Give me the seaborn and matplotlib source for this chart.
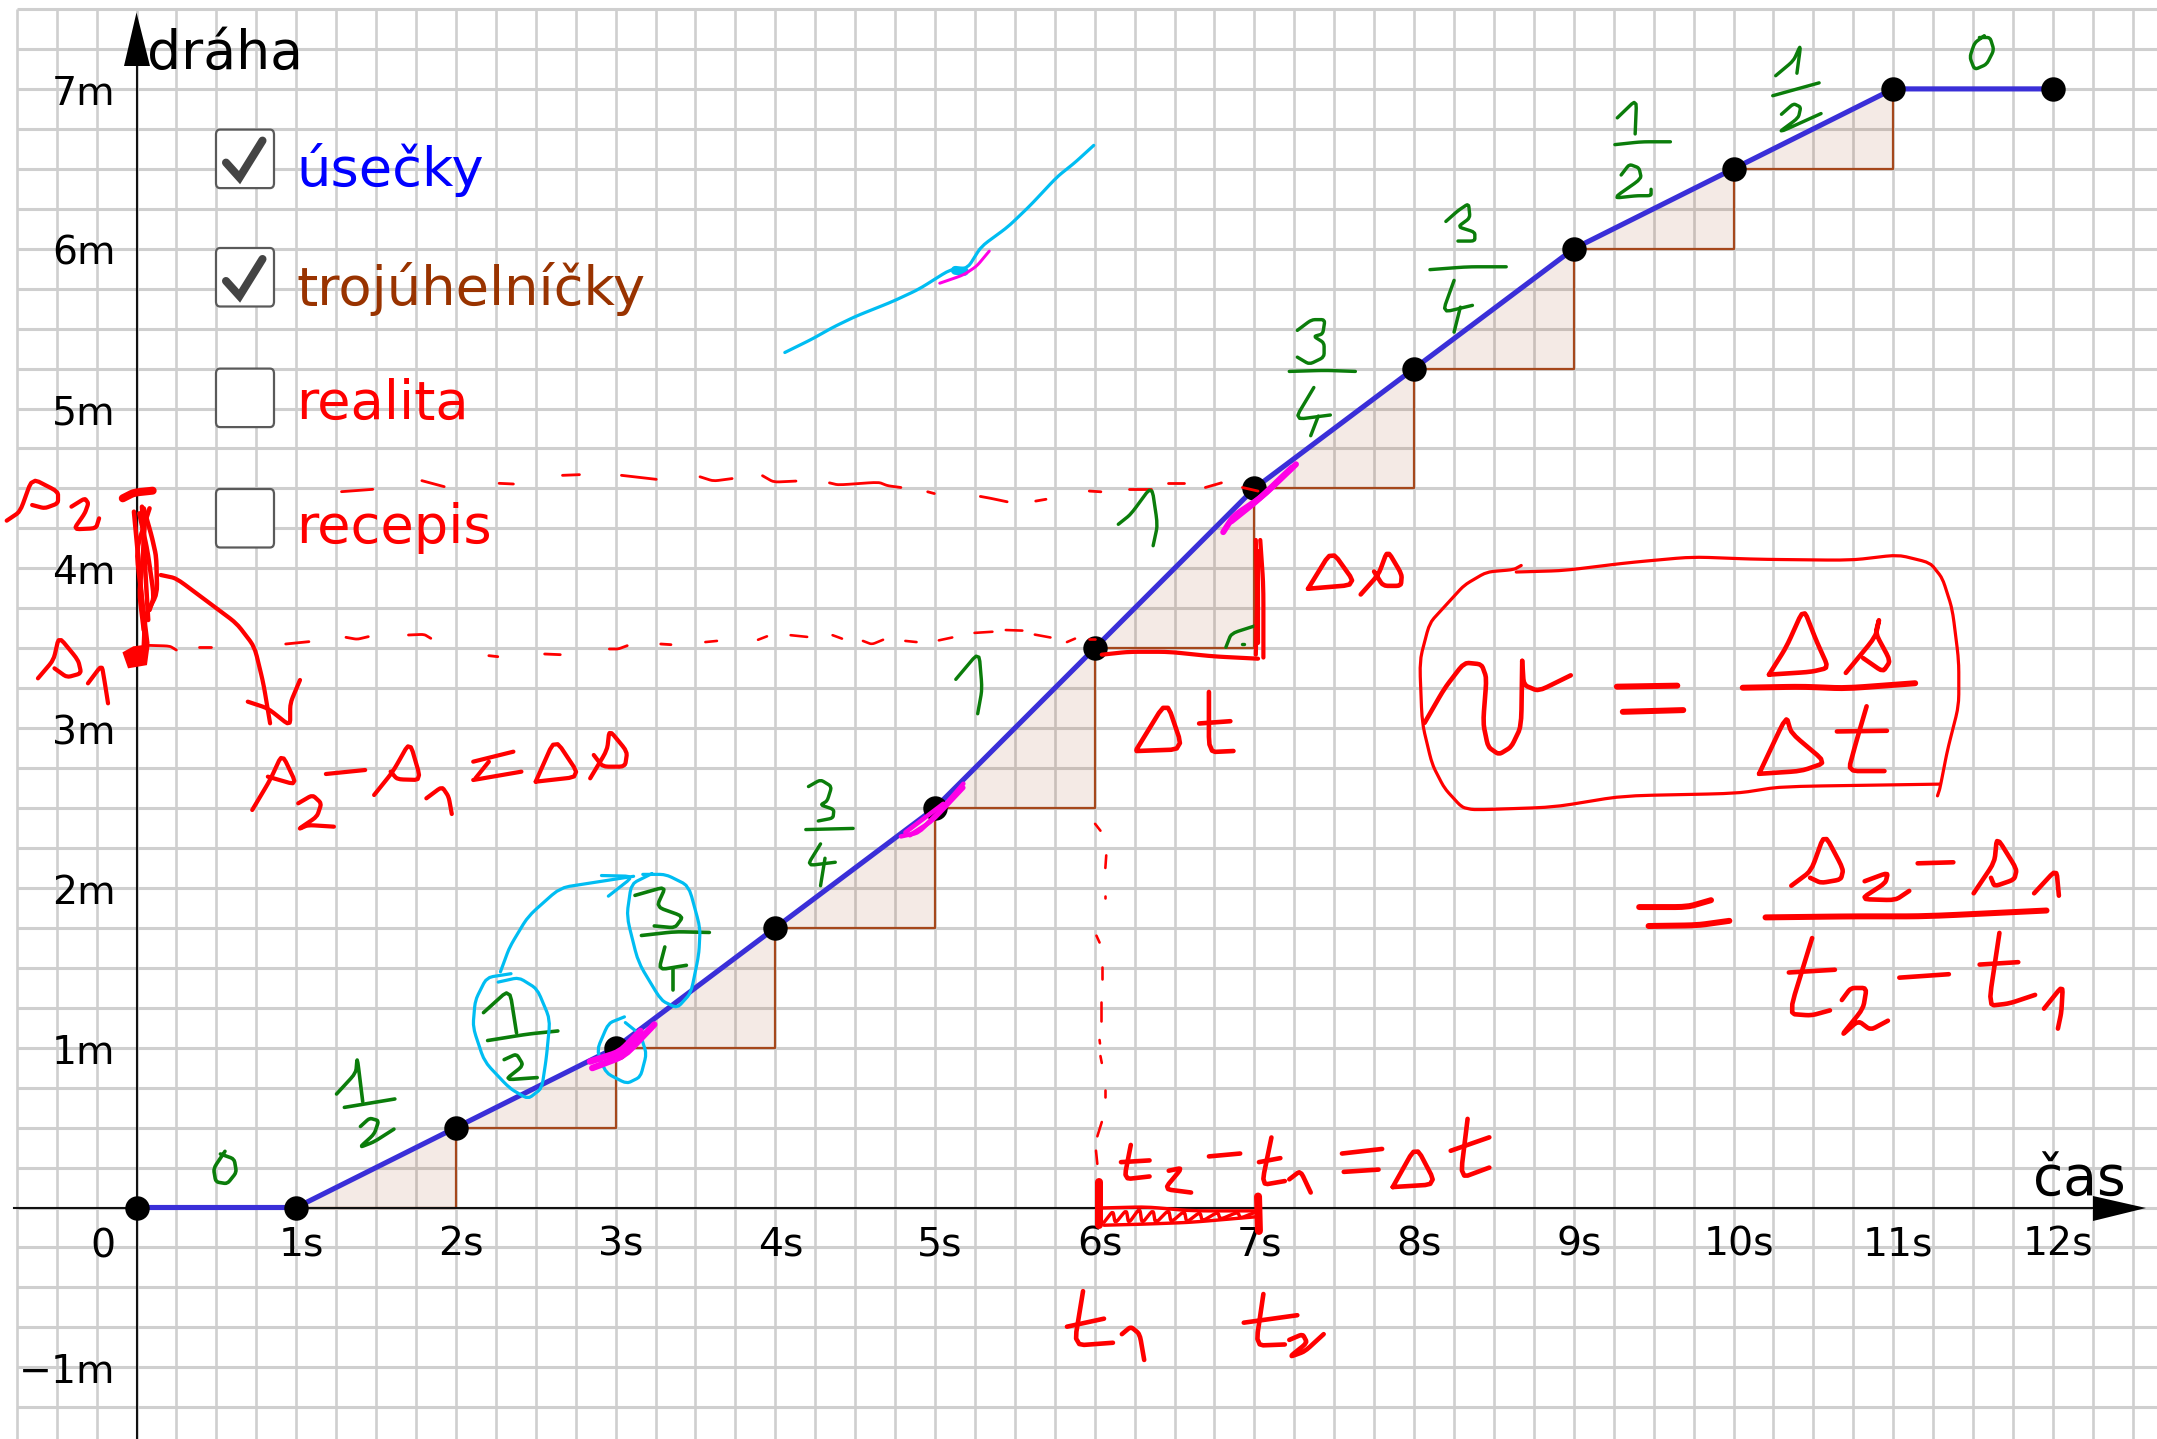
import numpy as np
import matplotlib
matplotlib.use("Agg")
import matplotlib.pyplot as plt
from matplotlib.patches import FancyBboxPatch
from matplotlib.transforms import ScaledTranslation
import seaborn as sns

# ---------------------------------------------------------------- chart values
TIME = [0, 1, 2, 3, 4, 5, 6, 7, 8, 9, 10, 11, 12]
DISTANCE = [0, 0, 0.5, 1, 1.75, 2.5, 3.5, 4.5, 5.25, 6, 6.5, 7, 7]
X_TICKS = [1, 2, 3, 4, 5, 6, 7, 8, 9, 10, 11, 12]
X_LABELS = ["1s", "2s", "3s", "4s", "5s", "6s", "7s", "8s", "9s", "10s", "11s", "12s"]
Y_TICKS = [-1, 1, 2, 3, 4, 5, 6, 7]
Y_LABELS = ["\u22121m", "1m", "2m", "3m", "4m", "5m", "6m", "7m"]
CHECKS = ["úsečky", "trojúhelníčky", "realita", "recepis"]

# ---------------------------------------------------------------- handwriting
# strokes are traced from crops of the picture, each crop has its own scale
CROP_LEFT = (0, 450, 2.24, 3.0)
CROP_LOW = (0, 840, 2.178, 2.618)
CROP_TOP = (700, 0, 2.24, 2.8)
CROP_RIGHT = (1400, 0, 2.071, 2.8)
CROP_BOX = (1380, 530, 2.018, 2.904)
CROP_MID = (700, 540, 2.24, 1.744)
CROP_AXIS = (1400, 1050, 2.071, 2.977)

LEFT_LABELS = [
    [(15, 212), (45, 185), (72, 85), (130, 125), (130, 160), (100, 175), (72, 165)],
    [(160, 170), (190, 145), (198, 160), (190, 190), (165, 238), (215, 235), (222, 205)],
    [(85, 685), (120, 630), (132, 560), (175, 630), (182, 670), (150, 682), (122, 655)],
    [(197, 700), (228, 645), (235, 700), (242, 760)],
    [(360, 375), (395, 385), (470, 460), (530, 520), (570, 590), (590, 700), (605, 820)],
    [(555, 755), (600, 775), (650, 828), (650, 760), (672, 690)],
    [(565, 1080), (605, 990), (632, 912), (665, 1005), (600, 980)],
    [(668, 1060), (700, 1035), (720, 1060), (710, 1100), (668, 1138), (690, 1125), (748, 1130)],
    [(730, 972), (818, 960)],
    [(838, 1035), (880, 965), (918, 875), (943, 990), (890, 988), (875, 965)],
    [(955, 1045), (990, 1010), (1005, 1040), (1012, 1092)],
    [(1060, 935), (1150, 905)],
    [(1095, 935), (1065, 985)],
    [(1060, 990), (1168, 965)],
    [(1200, 995), (1243, 865), (1300, 980), (1200, 995)],
    [(1322, 985), (1360, 900), (1365, 840), (1405, 905), (1400, 950), (1350, 950), (1330, 915)],
]
LEFT_SCRIBBLE = [
    [(300, 185), (308, 300), (315, 400), (325, 580)],
    [(332, 510), (325, 350), (318, 170)],
    [(322, 175), (340, 260), (350, 320), (352, 430), (325, 500), (322, 590)],
    [(335, 175), (305, 300), (320, 470), (330, 580)],
    [(312, 190), (330, 300), (345, 440), (335, 480)],
    [(325, 200), (320, 320), (312, 430), (322, 540)],
]
LEFT_BAR = [[(275, 145), (300, 128), (342, 122)]]
LEFT_DASHES = [
    [(330, 586), (380, 588), (395, 600)],
    [(445, 590), (472, 590)],
    [(640, 582), (692, 575)],
    [(775, 562), (800, 568), (825, 560)],
    [(915, 555), (950, 553), (965, 565)],
    [(1095, 617), (1115, 620)],
    [(1220, 612), (1255, 614)],
    [(1365, 597), (1385, 597), (1405, 587)],
    [(1480, 582), (1503, 584)],
    [(765, 125), (835, 118)],
    [(945, 92), (995, 110)],
    [(1118, 100), (1150, 102)],
    [(1260, 76), (1298, 74)],
    [(1392, 76), (1470, 88)],
]
LEFT_BLOB = [(280, 610), (300, 595), (330, 590), (325, 640), (290, 648)]

LOW_GREEN = [
    [(490, 815), (465, 860), (470, 895), (495, 900), (515, 870), (510, 835), (480, 822)],
    [(733, 665), (775, 610), (778, 568), (790, 685)],
    [(750, 700), (860, 678)],
    [(785, 750), (805, 728), (825, 735), (815, 770), (783, 805), (815, 790), (858, 757)],
    [(1053, 452), (1110, 390), (1125, 505)],
    [(1062, 525), (1150, 508), (1215, 500)],
    [(1098, 575), (1125, 560), (1140, 590), (1100, 628), (1170, 622)],
    [(1383, 145), (1450, 122), (1430, 175), (1488, 200), (1470, 230), (1425, 225)],
    [(1397, 250), (1470, 240), (1545, 242)],
    [(1448, 280), (1435, 340), (1495, 328)],
    [(1465, 335), (1465, 392)],
]
LOW_CYAN = [
    [(1113, 350), (1060, 360), (1035, 420), (1030, 490), (1055, 580), (1110, 650), (1150, 678),
     (1180, 650), (1190, 570), (1198, 470), (1170, 390), (1130, 360), (1085, 372)],
    [(1090, 345), (1110, 280), (1150, 200), (1220, 125), (1300, 110), (1380, 95)],
    [(1310, 93), (1380, 95), (1325, 147)],
    [(1420, 88), (1375, 115), (1365, 200), (1390, 320), (1440, 420), (1475, 440), (1505, 400),
     (1522, 300), (1525, 230), (1500, 120), (1450, 90), (1400, 90)],
    [(1360, 463), (1325, 480), (1300, 550), (1320, 610), (1365, 638), (1395, 620), (1408, 560),
     (1395, 510), (1362, 478)],
]
LOW_MAGENTA = [
    [(1285, 580), (1350, 555), (1395, 500)],
    [(1290, 597), (1360, 565), (1425, 483)],
]

TOP_CYAN = [
    [(190, 987), (250, 950), (300, 915), (350, 885), (430, 845), (490, 810), (560, 755), (600, 750),
     (630, 690), (690, 635), (740, 575), (800, 495), (840, 455), (882, 407)],
]
TOP_CYAN_BLOB = [[(572, 757), (592, 760)]]
TOP_MAGENTA_THIN = [[(537, 793), (590, 770), (620, 745), (648, 703)]]
TOP_MAGENTA = [
    [(1172, 1490), (1195, 1445), (1260, 1390), (1335, 1300)],
    [(1190, 1460), (1250, 1400), (1325, 1310)],
]
TOP_DASHES = [
    [(0, 1335), (30, 1347), (72, 1340)],
    [(140, 1332), (165, 1350), (215, 1347)],
    [(290, 1352), (310, 1358), (400, 1350), (420, 1360), (450, 1365)],
    [(510, 1377), (525, 1382)],
    [(628, 1390), (650, 1395), (688, 1405)],
    [(752, 1403), (775, 1398)],
    [(872, 1375), (898, 1377)],
    [(960, 1368), (1010, 1368)],
    [(1048, 1353), (1085, 1353)],
    [(1132, 1365), (1168, 1352)],
    [(1215, 1365), (1250, 1375)],
]
TOP_GREEN = [
    [(937, 1468), (965, 1440), (1012, 1360), (1025, 1470), (1015, 1528)],
    [(1338, 925), (1370, 895), (1400, 895), (1395, 935), (1375, 942), (1398, 960), (1398, 1000),
     (1365, 1020), (1338, 1000)],
    [(1320, 1040), (1400, 1037), (1468, 1040)],
    [(1375, 1085), (1332, 1175), (1412, 1162)],
    [(1385, 1165), (1368, 1220)],
]

RIGHT_GREEN = [
    [(1210, 100), (1190, 120), (1180, 160), (1190, 195), (1215, 180), (1230, 140), (1222, 105), (1200, 105)],
    [(778, 212), (815, 170), (830, 125), (822, 205)],
    [(772, 268), (868, 232)],
    [(790, 320), (815, 290), (830, 300), (825, 330), (782, 373), (872, 318)],
    [(450, 330), (490, 278), (487, 375)],
    [(445, 405), (500, 397), (560, 397)],
    [(458, 490), (475, 460), (495, 470), (500, 500), (442, 555), (490, 548), (520, 548), (520, 530)],
    [(95, 620), (120, 590), (142, 570), (145, 610), (120, 635), (155, 650), (155, 675), (120, 675)],
    [(62, 755), (140, 747), (220, 747)],
    [(112, 785), (88, 875), (150, 855)],
    [(125, 860), (112, 930)],
]

MID_DASHES = [
    [(12, 178), (38, 176)],
    [(130, 174), (150, 168)],
    [(203, 166), (240, 169)],
    [(297, 166), (318, 172)],
    [(365, 176), (385, 182), (410, 174)],
    [(460, 176), (485, 178)],
    [(535, 175), (565, 170)],
    [(615, 162), (655, 160)],
    [(685, 157), (722, 158)],
    [(750, 165), (785, 170)],
    [(822, 178), (840, 172)],
    [(872, 173), (885, 173)],
    [(885, 495), (897, 507)],
    [(910, 550), (908, 572)],
    [(907, 620), (907, 624)],
    [(888, 690), (895, 702)],
    [(901, 745), (901, 765)],
    [(899, 805), (899, 838)],
    [(895, 872), (896, 878)],
    [(897, 900), (900, 912)],
    [(908, 960), (908, 972)],
    [(900, 1015), (890, 1040)],
    [(887, 1065), (890, 1088)],
]
MID_GREEN = [
    [(573, 243), (625, 195), (632, 260), (622, 303)],
    [(243, 430), (270, 418), (295, 430), (285, 455), (270, 462), (300, 470), (298, 485), (265, 490)],
    [(237, 505), (343, 503)],
    [(270, 530), (240, 568), (303, 562)],
    [(280, 555), (270, 603)],
    [(1178, 187), (1190, 163), (1250, 148)],
    [(1213, 181), (1218, 181)],
]
MID_MAGENTA = [
    [(450, 517), (490, 510), (540, 470), (590, 425)],
    [(470, 515), (520, 490), (590, 432)],
    [(460, 510), (545, 460)],
]
MID_RED_SIDES = [
    [(1245, 0), (1248, 100), (1245, 200)],
    [(1255, 0), (1262, 80), (1262, 205)],
    [(1250, 20), (1250, 180)],
    [(900, 200), (960, 195), (1050, 195), (1150, 203), (1250, 207)],
]
MID_RED_TEXT = [
    [(978, 365), (1045, 280), (1082, 365), (978, 368)],
    [(1140, 265), (1140, 370), (1195, 368)],
    [(1118, 320), (1188, 316)],
    [(1362, 85), (1415, 18), (1470, 78), (1362, 85)],
    [(1480, 95), (1520, 60), (1540, 18), (1572, 60), (1570, 80), (1530, 80), (1510, 55)],
    [(965, 1055), (950, 1115), (1007, 1110)],
    [(943, 1085), (1007, 1082)],
    [(1050, 1100), (1080, 1095), (1040, 1132), (1100, 1138)],
    [(1140, 1075), (1210, 1070)],
    [(1280, 1042), (1258, 1125), (1310, 1118)],
    [(1252, 1085), (1300, 1078)],
    [(1320, 1115), (1345, 1100), (1368, 1138)],
    [(1438, 1070), (1528, 1062)],
    [(1442, 1102), (1520, 1098)],
    [(858, 1310), (838, 1405), (925, 1400)],
    [(822, 1372), (905, 1358)],
    [(945, 1385), (965, 1372), (985, 1385), (995, 1430)],
    [(1262, 1315), (1245, 1405), (1310, 1403)],
    [(1218, 1365), (1338, 1352)],
    [(1320, 1395), (1350, 1385), (1360, 1400), (1320, 1425), (1355, 1415), (1397, 1385)],
]
MID_RED_HATCH = [
    [(895, 1165), (1000, 1163), (1100, 1170), (1250, 1170)],
    [(905, 1195), (1000, 1193), (1100, 1190), (1250, 1180)],
    [(905, 1190), (925, 1170), (930, 1192), (955, 1168), (960, 1192), (985, 1165), (990, 1192),
     (1015, 1168), (1020, 1192), (1050, 1168), (1055, 1190), (1085, 1170), (1090, 1190),
     (1120, 1172), (1125, 1188), (1160, 1172), (1165, 1185), (1205, 1172), (1210, 1183), (1245, 1172)],
]
MID_RED_ENDS = [
    [(893, 1120), (893, 1195)],
    [(1250, 1145), (1252, 1205)],
]
AXIS_RED = [
    [(-15, 408), (33, 285), (75, 400), (-15, 408)],
    [(140, 205), (125, 382), (185, 350)],
    [(105, 300), (185, 260)],
]

BOX_OUTLINE = [
    [(275, 122), (370, 118), (500, 95), (630, 78), (760, 85), (950, 88), (1045, 72), (1110, 95),
     (1135, 140), (1155, 230), (1168, 380), (1168, 510), (1145, 640), (1130, 750), (1125, 772)],
    [(285, 103), (270, 115), (215, 122), (170, 160), (135, 215), (100, 270), (80, 380), (85, 560),
     (105, 680), (130, 750), (165, 805), (190, 813), (350, 805), (490, 772), (720, 765), (810, 745), (1130, 738)],
]
BOX_TEXT = [
    [(90, 560), (130, 460), (170, 385), (205, 390), (215, 430), (208, 560), (218, 630), (240, 652),
     (265, 630), (285, 570), (287, 380)],
    [(287, 380), (290, 450), (320, 468), (385, 422)],
    [(785, 420), (820, 340), (855, 228), (880, 320), (905, 400), (870, 412), (785, 420)],
    [(940, 415), (1000, 310), (1008, 255), (1000, 300), (1030, 380), (1015, 412), (975, 372)],
    [(765, 708), (820, 540), (830, 590), (900, 675), (850, 700), (765, 708)],
    [(982, 512), (960, 620), (945, 700), (1018, 700)],
    [(922, 585), (1023, 583)],
    [(830, 1033), (870, 990), (897, 882), (935, 985), (930, 1015), (890, 1025), (868, 1010)],
    [(978, 1020), (1025, 995), (1020, 1025), (970, 1072), (1040, 1075), (1068, 1048)],
    [(1085, 968), (1157, 965)],
    [(1198, 1055), (1240, 965), (1245, 892), (1285, 985), (1280, 1015), (1240, 1035), (1233, 1010)],
    [(1320, 1055), (1365, 985), (1370, 1062)],
    [(872, 1185), (825, 1405), (870, 1410), (908, 1395)],
    [(825, 1285), (918, 1277)],
    [(932, 1365), (950, 1330), (982, 1330), (975, 1390), (930, 1470), (965, 1425), (990, 1452), (1025, 1425)],
    [(1048, 1300), (1148, 1290)],
    [(1250, 1170), (1228, 1382), (1270, 1375), (1322, 1350)],
    [(1210, 1262), (1288, 1255)],
    [(1340, 1390), (1378, 1322), (1375, 1400), (1368, 1448)],
]
BOX_BARS = [
    [(478, 455), (600, 452)],
    [(490, 528), (612, 523)],
    [(732, 458), (850, 455), (940, 460), (1080, 445)],
    [(523, 1095), (620, 1095), (668, 1075)],
    [(542, 1150), (640, 1148), (705, 1135)],
    [(778, 1125), (950, 1122), (1100, 1122), (1345, 1105)],
]

# ---------------------------------------------------------------- figure set up
sns.set_theme(style="white")
plt.rcParams["font.family"] = ["DejaVu Sans"]

WIDTH, HEIGHT = 2157, 1439
X0, Y0 = 136.5, 1207.5
UNIT_X, UNIT_Y = 159.7, 159.8

fig = plt.figure(figsize=(WIDTH / 100, HEIGHT / 100), dpi=100)
ax = fig.add_axes([0, 0, 1, 1])
ax.set_xlim(-X0 / UNIT_X, (WIDTH - X0) / UNIT_X)
ax.set_ylim((Y0 - HEIGHT) / UNIT_Y, Y0 / UNIT_Y)
ax.patch.set_alpha(0)


def px(x, y):
    # picture pixels to data units
    return (x - X0) / UNIT_X, (Y0 - y) / UNIT_Y


def smooth(points, rounds=2):
    # light corner cutting so the pen strokes do not look like polygons
    pts = np.array(points, dtype=float)
    if len(pts) < 3:
        return pts
    for _ in range(rounds):
        q = 0.85 * pts[:-1] + 0.15 * pts[1:]
        r = 0.15 * pts[:-1] + 0.85 * pts[1:]
        mid = np.empty((2 * len(q), 2))
        mid[0::2] = q
        mid[1::2] = r
        pts = np.vstack([pts[0], mid, pts[-1]])
    return pts


def ink(crop, strokes, color, width):
    ox, oy, sx, sy = crop
    for stroke in strokes:
        pts = smooth(stroke)
        xs, ys = px(ox + pts[:, 0] / sx, oy + pts[:, 1] / sy)
        ax.plot(xs, ys, color=color, lw=width * 0.72, zorder=6,
                solid_capstyle="round", solid_joinstyle="round", clip_on=False)


# grid, 0.25 in both directions
GRID = "#cfcfcf"
grid_left, grid_right = -0.75, 12.5
grid_top, grid_bottom = 7.5, -1.25
ax.hlines(np.arange(grid_bottom, grid_top + 0.01, 0.25), grid_left, ax.get_xlim()[1],
          color=GRID, lw=2.2, zorder=0)
ax.vlines(np.arange(grid_left, grid_right + 0.01, 0.25), ax.get_ylim()[0], grid_top,
          color=GRID, lw=1.9, zorder=0)

# triangles under each rising segment
for i in range(1, 11):
    x1, x2 = TIME[i], TIME[i + 1]
    y1, y2 = DISTANCE[i], DISTANCE[i + 1]
    ax.fill([x1, x2, x2], [y1, y1, y2], color="#993300", alpha=0.1, lw=0, zorder=1)
    ax.plot([x1, x2, x2], [y1, y1, y2], color="#a5481c", lw=1.6, zorder=2)

# axes through the origin
for side in ["top", "right"]:
    ax.spines[side].set_visible(False)
for side in ["left", "bottom"]:
    ax.spines[side].set_position(("data", 0))
    ax.spines[side].set_color("#111111")
    ax.spines[side].set_linewidth(1.5)
    ax.spines[side].set_zorder(3)
ax.spines["left"].set_bounds(ax.get_ylim()[0], px(0, 30)[1])
ax.spines["bottom"].set_bounds(px(14, 0)[0], px(2100, 0)[0])

ax.set_xticks(X_TICKS, X_LABELS)
ax.set_yticks(Y_TICKS, Y_LABELS)
ax.tick_params(axis="both", direction="out", length=5, width=1.3, color="#111111",
               labelsize=28.4, labelcolor="black", pad=10)
ax.tick_params(axis="x", pad=8)
shift_x = ScaledTranslation(5 / 100, 0, fig.dpi_scale_trans)
for label in ax.get_xticklabels():
    label.set_transform(label.get_transform() + shift_x)
shift_y = ScaledTranslation(0, -1 / 100, fig.dpi_scale_trans)
for label in ax.get_yticklabels():
    label.set_transform(label.get_transform() + shift_y)

# arrow heads
up = [px(136.5, 12.5), px(124, 66), px(150, 66)]
right = [px(2146, 1208), px(2093, 1196), px(2093, 1221)]
for head in [up, right]:
    ax.fill(*zip(*head), color="black", lw=0, zorder=4, clip_on=False)

# the segments and the points
sns.lineplot(x=TIME, y=DISTANCE, ax=ax, color="#3a2fd8", linewidth=3.7, sort=False,
             errorbar=None, zorder=4)
sns.scatterplot(x=TIME, y=DISTANCE, ax=ax, color="black", s=310, linewidth=0, zorder=5)

# texts
ax.text(*px(147, 69), "dráha", fontsize=38.6, color="black", zorder=7)
ax.text(*px(2033, 1196), "čas", fontsize=39.7, color="black", zorder=7)
ax.text(*px(103, 1258), "0", fontsize=28.4, color="black", ha="center", zorder=7)

# check boxes
box_tops = [129.6, 248, 368.6, 489]
box_base = [186, 305, 418.6, 542.7]
box_colors = ["#0000ff", "#993300", "#ff0000", "#ff0000"]
box_checked = [True, True, False, False]
for name, top, base, colour, checked in zip(CHECKS, box_tops, box_base, box_colors, box_checked):
    x1, y1 = px(220, top + 53.5)
    x2, y2 = px(270, top + 5)
    rx = 4 / UNIT_X
    ry = 5 / UNIT_Y
    ax.add_patch(FancyBboxPatch((x1, y1), x2 - x1, y2 - y1,
                                boxstyle=f"round,pad={rx},rounding_size={rx}",
                                fc="white", ec="#5a5a5a", lw=1.6, zorder=5,
                                mutation_aspect=ry / rx))
    if checked:
        xs, ys = px(np.array([226, 239.5, 262.5]), top + np.array([33, 48, 11]))
        ax.plot(xs, ys, color="#444444", lw=5.8, zorder=6,
                solid_capstyle="round", solid_joinstyle="miter")
    ax.text(*px(296, base), name, fontsize=39.2, color=colour, zorder=7)

# pen strokes
RED, GREEN, CYAN, MAGENTA = "#ff0000", "#0b7d0b", "#00bdf2", "#ff00e6"

ink(CROP_LEFT, LEFT_LABELS, RED, 4.2)
ink(CROP_LEFT, LEFT_SCRIBBLE, RED, 4.5)
ink(CROP_LEFT, LEFT_BAR, RED, 8)
ink(CROP_LEFT, LEFT_DASHES, RED, 2.8)
ox, oy, sx, sy = CROP_LEFT
blob = [px(ox + a / sx, oy + b / sy) for a, b in LEFT_BLOB]
ax.fill(*zip(*blob), color=RED, lw=3, zorder=6)

ink(CROP_LOW, LOW_GREEN, GREEN, 3.6)
ink(CROP_LOW, LOW_CYAN, CYAN, 3.2)
ink(CROP_LOW, LOW_MAGENTA, MAGENTA, 6.5)

ink(CROP_TOP, TOP_CYAN, CYAN, 3.2)
ink(CROP_TOP, TOP_CYAN_BLOB, CYAN, 9)
ink(CROP_TOP, TOP_MAGENTA_THIN, MAGENTA, 3)
ink(CROP_TOP, TOP_MAGENTA, MAGENTA, 6)
ink(CROP_TOP, TOP_DASHES, RED, 2.8)
ink(CROP_TOP, TOP_GREEN, GREEN, 3.4)

ink(CROP_RIGHT, RIGHT_GREEN, GREEN, 3.4)

ink(CROP_MID, MID_DASHES, RED, 2.6)
ink(CROP_MID, MID_GREEN, GREEN, 3.4)
ink(CROP_MID, MID_MAGENTA, MAGENTA, 4.5)
ink(CROP_MID, MID_RED_SIDES, RED, 4.2)
ink(CROP_MID, MID_RED_TEXT, RED, 4.6)
ink(CROP_MID, MID_RED_HATCH, RED, 3.4)
ink(CROP_MID, MID_RED_ENDS, RED, 8)
ink(CROP_AXIS, AXIS_RED, RED, 4.6)

ink(CROP_BOX, BOX_OUTLINE, RED, 3.2)
ink(CROP_BOX, BOX_TEXT, RED, 4.6)
ink(CROP_BOX, BOX_BARS, RED, 6)

fig.savefig("out.png", dpi=100, facecolor="white")
